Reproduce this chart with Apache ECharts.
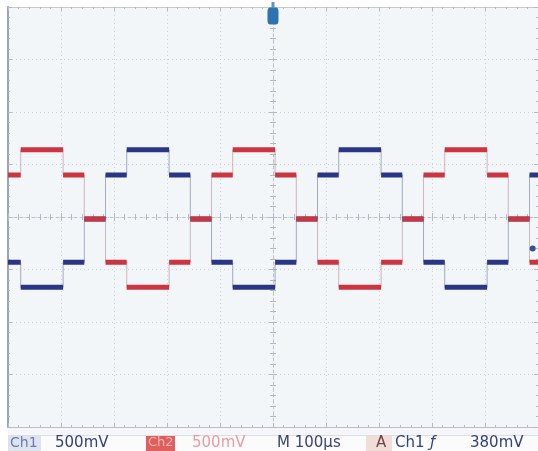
<!DOCTYPE html>
<html>
<head>
<meta charset="utf-8">
<script src="https://cdn.jsdelivr.net/npm/echarts@6/dist/echarts.min.js"></script>
<style>
html,body{margin:0;padding:0;background:#ffffff;}
#chart{width:538px;height:451px;}
</style>
</head>
<body>
<div id="chart"></div>
<script>
// Time of each level change (µs, relative to trigger), including window edges
const timeEdges = [-500, -476, -396, -356, -316, -276, -196, -156, -116, -76, 4, 44, 84, 124, 204, 244, 284, 324, 404, 444, 484, 500];
// Level (V) held in each interval between consecutive edges
const ch1Levels = [-0.43, -0.67, -0.43, -0.02, 0.40, 0.64, 0.40, -0.02, -0.43, -0.67, -0.43, -0.02, 0.40, 0.64, 0.40, -0.02, -0.43, -0.67, -0.43, -0.02, 0.40];
const ch2Levels = [0.40, 0.64, 0.40, -0.02, -0.43, -0.67, -0.43, -0.02, 0.40, 0.64, 0.40, -0.02, -0.43, -0.67, -0.43, -0.02, 0.40, 0.64, 0.40, -0.02, -0.43];
// Scale readout
const statusTexts = ['Ch1', '500mV', 'Ch2', '500mV', 'M 100µs', 'A', 'Ch1', 'ƒ', '380mV'];
const trigLevelPoint = [490, -0.30];

function stepData(levels) {
  const d = levels.map((v, i) => [timeEdges[i], v]);
  d.push([timeEdges[timeEdges.length - 1], levels[levels.length - 1]]);
  return d;
}
function segData(levels) {
  const d = [];
  levels.forEach((v, i) => {
    d.push([timeEdges[i], v]);
    d.push([timeEdges[i + 1], v]);
    d.push(null);
  });
  return d;
}

const gridCol = '#cdd2da';
const tickCol = '#b4bac5';
function xAx(extra) {
  return Object.assign({
    type: 'value', min: -500, max: 500, interval: 100,
    axisLabel: {show: false},
    splitLine: {show: false},
    axisLine: {show: true, onZero: false, lineStyle: {color: '#b9bec8', width: 1}},
    axisTick: {show: true, inside: true, length: 4, lineStyle: {color: tickCol}},
    minorTick: {show: true, splitNumber: 5, length: 2, lineStyle: {color: tickCol}}
  }, extra);
}
function yAx(extra) {
  return Object.assign({
    type: 'value', min: -2, max: 2, interval: 0.5,
    axisLabel: {show: false},
    splitLine: {show: false},
    axisLine: {show: true, onZero: false, lineStyle: {color: '#b9bec8', width: 1}},
    axisTick: {show: true, inside: true, length: 4, lineStyle: {color: tickCol}},
    minorTick: {show: true, splitNumber: 5, length: 2, lineStyle: {color: tickCol}}
  }, extra);
}

const chart = echarts.init(document.getElementById('chart'), null, {renderer: 'canvas'});
const fontF = 'DejaVu Sans';
const ty = 436;
chart.setOption({
  animation: false,
  backgroundColor: '#ffffff',
  grid: {left: 8, right: 0, top: 7, bottom: 24, show: true, backgroundColor: '#f3f6f9', borderWidth: 0},
  xAxis: [
    xAx({position: 'bottom', splitLine: {show: true, lineStyle: {color: gridCol, type: [1, 3]}}}),
    xAx({position: 'top', axisLine: {show: true, onZero: false, lineStyle: {color: '#c4c9d2'}}}),
    xAx({position: 'bottom', axisLine: {show: true, onZero: true, onZeroAxisIndex: 0, lineStyle: {color: '#bcc2cc', type: [3, 3]}}, axisTick: {show: true, inside: false, length: 4, lineStyle: {color: tickCol}}, minorTick: {show: true, splitNumber: 5, length: 3, lineStyle: {color: tickCol}}}),
    xAx({position: 'bottom', axisLine: {show: false, onZero: true, onZeroAxisIndex: 0}, axisTick: {show: true, inside: true, length: 4, lineStyle: {color: tickCol}}, minorTick: {show: true, splitNumber: 5, length: 3, lineStyle: {color: tickCol}}})
  ],
  yAxis: [
    yAx({position: 'left', axisLine: {show: true, onZero: false, lineStyle: {color: '#9ea4ae', width: 2}}, splitLine: {show: true, lineStyle: {color: gridCol, type: [1, 3]}}}),
    yAx({position: 'right', axisLine: {show: false, onZero: false}}),
    yAx({position: 'left', axisLine: {show: true, onZero: true, onZeroAxisIndex: 0, lineStyle: {color: '#bcc2cc', type: [3, 3]}}, axisTick: {show: true, inside: false, length: 4, lineStyle: {color: tickCol}}, minorTick: {show: true, splitNumber: 5, length: 3, lineStyle: {color: tickCol}}}),
    yAx({position: 'left', axisLine: {show: false, onZero: true, onZeroAxisIndex: 0}, axisTick: {show: true, inside: true, length: 4, lineStyle: {color: tickCol}}, minorTick: {show: true, splitNumber: 5, length: 3, lineStyle: {color: tickCol}}})
  ],
  series: [
    {type: 'line', step: 'end', data: stepData(ch1Levels), showSymbol: false, symbol: 'none',
     lineStyle: {width: 1, color: 'rgba(95,105,150,0.55)'}, z: 2, silent: true},
    {type: 'line', data: segData(ch1Levels), showSymbol: false, symbol: 'none', connectNulls: false,
     lineStyle: {width: 5, color: '#2b3585', cap: 'butt'}, z: 3, silent: true,
     markPoint: {silent: true, data: [
       {coord: [0, 2], symbol: 'roundRect', symbolSize: [11, 17], symbolOffset: [0, 9], itemStyle: {color: '#2d73ad'}, label: {show: false}},
       {coord: [0, 2], symbol: 'rect', symbolSize: [3, 6], symbolOffset: [0, -2], itemStyle: {color: '#5b93c2'}, label: {show: false}},
       {coord: trigLevelPoint, symbol: 'circle', symbolSize: 6, itemStyle: {color: '#34509a'}, label: {show: false}}
     ]}},
    {type: 'line', step: 'end', data: stepData(ch2Levels), showSymbol: false, symbol: 'none',
     lineStyle: {width: 1, color: 'rgba(170,120,130,0.5)'}, z: 4, silent: true},
    {type: 'line', data: segData(ch2Levels), showSymbol: false, symbol: 'none', connectNulls: false,
     lineStyle: {width: 5, color: '#cc3540', cap: 'butt'}, z: 5, silent: true}
  ],
  graphic: [
    {type: 'rect', left: 8, top: 428, shape: {width: 530, height: 23}, style: {fill: '#f5f6f9'}, z: 1},
    {type: 'rect', left: 8, top: 435, shape: {width: 530, height: 16}, style: {fill: '#fbfbfc', stroke: '#dcdfe5', lineWidth: 1}, z: 1},
    {type: 'rect', left: 9, top: 436, shape: {width: 32, height: 15}, style: {fill: '#dde4f0'}, z: 2},
    {type: 'rect', left: 146, top: 436, shape: {width: 29, height: 15}, style: {fill: '#df5f5d'}, z: 2},
    {type: 'rect', left: 366, top: 436, shape: {width: 26, height: 15}, style: {fill: '#f2dcd8'}, z: 2},
    {type: 'text', left: 10, top: ty, style: {text: statusTexts[0], font: '14px ' + fontF, fill: '#6c7cad'}, z: 3},
    {type: 'text', left: 55, top: ty, style: {text: statusTexts[1], font: '15px ' + fontF, fill: '#34417c'}, z: 3},
    {type: 'text', left: 148, top: ty, style: {text: statusTexts[2], font: '13px ' + fontF, fill: '#f4b3b3'}, z: 3},
    {type: 'text', left: 192, top: ty, style: {text: statusTexts[3], font: '15px ' + fontF, fill: '#e79ca4'}, z: 3},
    {type: 'text', left: 277, top: ty, style: {text: statusTexts[4], font: '15px ' + fontF, fill: '#3a4470'}, z: 3},
    {type: 'text', left: 376, top: ty, style: {text: statusTexts[5], font: '15px ' + fontF, fill: '#6e4646'}, z: 3},
    {type: 'text', left: 395, top: ty, style: {text: statusTexts[6], font: '15px ' + fontF, fill: '#34417c'}, z: 3},
    {type: 'text', left: 430, top: ty, style: {text: statusTexts[7], font: 'italic 15px ' + fontF, fill: '#34417c'}, z: 3},
    {type: 'text', left: 470, top: ty, style: {text: statusTexts[8], font: '15px ' + fontF, fill: '#34417c'}, z: 3}
  ]
});
</script>
</body>
</html>
